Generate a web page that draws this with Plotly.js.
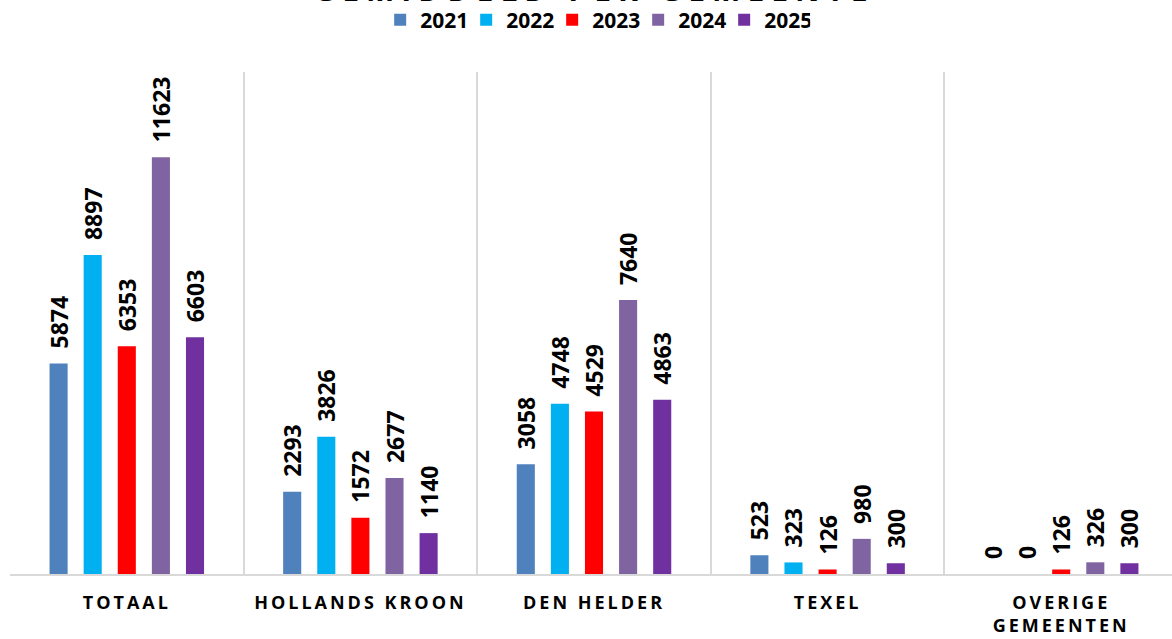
<!DOCTYPE html>
<html>
<head>
<meta charset="utf-8">
<script src="https://cdn.plot.ly/plotly-3.0.1.min.js"></script>
<style>html,body{margin:0;padding:0;overflow:hidden;background:#fff;}</style>
</head>
<body>
<div id="chart"></div>
<script>
const categories = ['TOTAAL', 'HOLLANDS KROON', 'DEN HELDER', 'TEXEL', 'OVERIGE GEMEENTEN'];
const tickLabels = ['TOTAAL', 'HOLLANDS KROON', 'DEN HELDER', 'TEXEL', 'OVERIGE\nGEMEENTEN'];
const years = ['2021', '2022', '2023', '2024', '2025'];
const v2021 = [5874, 2293, 3058, 523, 0];
const v2022 = [8897, 3826, 4748, 323, 0];
const v2023 = [6353, 1572, 4529, 126, 126];
const v2024 = [11623, 2677, 7640, 980, 326];
const v2025 = [6603, 1140, 4863, 300, 300];
const titleText = 'GEMIDDELD PER GEMEENTE';

const colors = ['#4F81BD', '#00B0F0', '#FF0000', '#8064A2', '#7030A0'];
const series = [v2021, v2022, v2023, v2024, v2025];
const NB = '\u00a0';

function spaced(s, ls) {
  return s.split('\n').map(line =>
    '<span style="letter-spacing:' + ls + 'px">' + line + '</span>'
  ).join('<br>');
}
const alias = {};
categories.forEach((c, i) => { alias[c] = spaced(tickLabels[i], 3); });

const font = 'Open Sans, sans-serif';
const traces = series.map((vals, i) => ({
  type: 'bar',
  name: years[i],
  x: categories,
  y: vals,
  marker: { color: colors[i] },
  texttemplate: NB + NB + '%{y:.0f}',
  textposition: 'outside',
  textangle: -90,
  constraintext: 'none',
  cliponaxis: false,
  textfont: { family: font, size: 23, color: '#000', weight: 'bold' },
  hoverinfo: 'skip'
}));

const layout = {
  width: 1178,
  height: 639,
  margin: { l: 10, r: 0, t: 72, b: 65 },
  paper_bgcolor: '#fff',
  plot_bgcolor: '#fff',
  barmode: 'group',
  bargap: 0.27,
  bargroupgap: 0.47,
  showlegend: true,
  title: {
    text: spaced(titleText, 7),
    font: { family: font, size: 30, color: '#000', weight: 'bold' },
    xref: 'paper', x: 0.5, xanchor: 'center',
    yref: 'container', y: 0.998, yanchor: 'bottom'
  },
  legend: {
    orientation: 'h',
    xref: 'paper', x: 0.501, xanchor: 'center',
    yref: 'container', y: 1 - 20 / 639, yanchor: 'middle',
    font: { family: font, size: 21, color: '#000', weight: 'bold' },
    entrywidth: 41,
    entrywidthmode: 'pixels',
    itemclick: false, itemdoubleclick: false
  },
  xaxis: {
    type: 'category',
    tickson: 'boundaries',
    showgrid: true,
    gridcolor: '#d9d9d9',
    gridwidth: 2,
    showline: true,
    linecolor: '#d9d9d9',
    linewidth: 2,
    ticks: '',
    labelalias: alias,
    ticklabelstandoff: 11,
    tickfont: { family: font, size: 18, color: '#000', weight: 'bold' }
  },
  yaxis: {
    range: [0, 14000],
    visible: false,
    showgrid: false,
    zeroline: false
  }
};

Plotly.newPlot('chart', traces, layout, { displayModeBar: false, staticPlot: true });
</script>
</body>
</html>
